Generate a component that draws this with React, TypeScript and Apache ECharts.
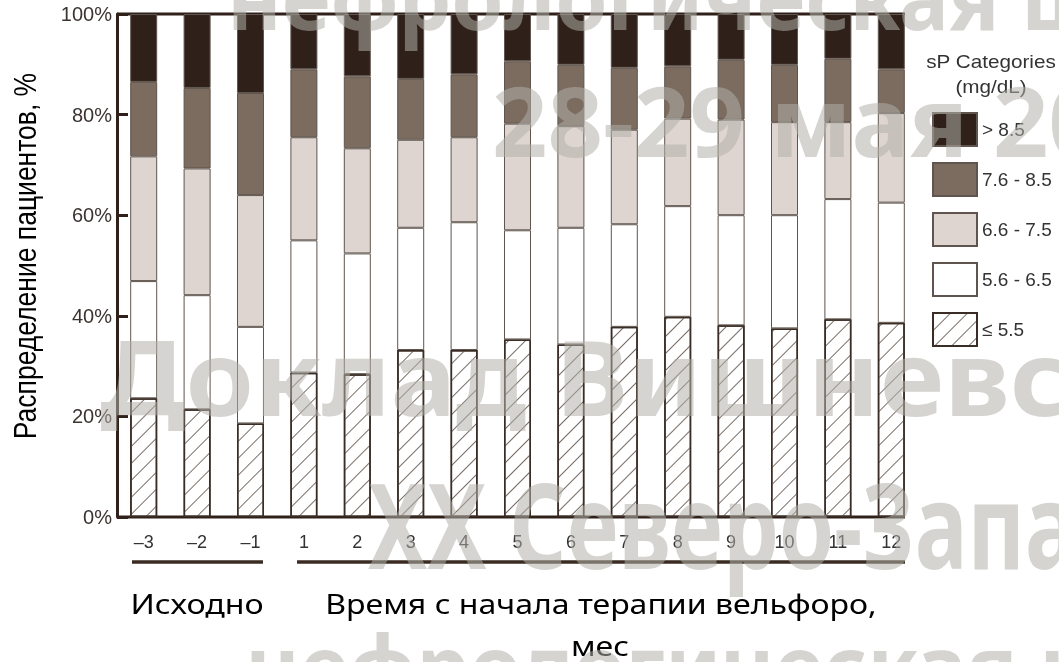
import React, { useEffect, useRef } from "react";
import * as echarts from "echarts";

const categories = ["–3", "–2", "–1", "1", "2", "3", "4", "5", "6", "7", "8", "9", "10", "11", "12"];
const seriesNames = ["≤ 5.5", "5.6 - 6.5", "6.6 - 7.5", "7.6 - 8.5", "> 8.5"];
const le55 = [23.6, 21.4, 18.6, 28.7, 28.4, 33.2, 33.2, 35.3, 34.3, 37.8, 39.8, 38.1, 37.5, 39.3, 38.6];
const r56to65 = [23.3, 22.7, 19.2, 26.3, 24.0, 24.3, 25.4, 21.7, 23.2, 20.4, 22.0, 21.9, 22.5, 23.9, 23.9];
const r66to75 = [24.8, 25.2, 26.2, 20.5, 20.9, 17.5, 16.9, 21.2, 20.2, 18.8, 17.4, 19.0, 18.5, 15.3, 17.8];
const r76to85 = [14.8, 16.0, 20.3, 13.5, 14.3, 12.1, 12.5, 12.4, 12.2, 12.3, 10.4, 11.9, 11.4, 12.6, 8.7];
const gt85 = [13.5, 14.7, 15.7, 11.0, 12.4, 12.9, 12.0, 9.4, 10.1, 10.7, 10.4, 9.1, 10.1, 8.9, 11.0];
const watermarkLines = ["нефрологическая ш", "28-29 мая 20", "Доклад Вишневс", "XX Северо-Запа", "нефрологическая ш"];

export default function App() {
  const ref = useRef<HTMLDivElement>(null);
  useEffect(() => {
    if (!ref.current) return;
    const chart = echarts.init(ref.current, null, { renderer: "svg" });
    const dark = "#2f2119";
    const border = "#5f554e";
    const fills = ["#ffffff", "#ffffff", "#dfd5d0", "#7b6c5f", "#2f2119"];
    const dataSets = [le55, r56to65, r66to75, r76to85, gt85];
    const series = dataSets.map((d, i) => ({
      name: seriesNames[i],
      type: "bar",
      stack: "total",
      barWidth: 27,
      data: d,
      itemStyle: {
        color: fills[i],
        borderColor: i === 0 ? "#3a2d25" : border,
        borderWidth: i === 0 ? 1.5 : 1,
        decal:
          i === 0
            ? {
                symbol: "rect",
                symbolSize: 1,
                dashArrayX: [1, 0],
                dashArrayY: [1, 11],
                rotation: -Math.PI / 4,
                color: "#776c65",
              }
            : "none",
      },
    }));
    const sans = "'Liberation Sans', Arial, sans-serif";
    const wmStyle = {
      fill: "rgba(178,175,168,0.54)",
      fontFamily: "'Noto Sans', sans-serif",
      fontWeight: "bold",
      textAlign: "left",
      textVerticalAlign: "middle",
    };
    const wmPos = [
      { x: 227, y: -4, size: 88, sx: 0.95 },
      { x: 492, y: 119, size: 97, sx: 1 },
      { x: 100, y: 375, size: 104, sx: 1.06 },
      { x: 368, y: 524, size: 118, sx: 0.75 },
      { x: 245, y: 665, size: 88, sx: 0.95 },
    ];
    chart.setOption({
      animation: false,
      grid: { left: 117, top: 14, width: 801, height: 503 },
      xAxis: {
        type: "category",
        data: categories,
        axisLine: { show: false },
        axisTick: { show: false },
        axisLabel: { margin: 16, fontSize: 18, fontFamily: sans, color: "#333" },
      },
      yAxis: {
        type: "value",
        min: 0,
        max: 100,
        interval: 20,
        axisLine: { show: true, lineStyle: { color: dark, width: 3 } },
        axisTick: { show: true, inside: true, length: 11, lineStyle: { color: dark, width: 3 } },
        splitLine: { show: false },
        axisLabel: { formatter: "{value}%", fontSize: 20, margin: 5, fontFamily: sans, color: "#3b3431" },
      },
      legend: {
        orient: "vertical",
        left: 927,
        top: 107,
        itemWidth: 44,
        itemHeight: 33,
        itemGap: 15,
        icon: "rect",
        data: [...seriesNames].reverse(),
        textStyle: { fontSize: 19, fontFamily: sans, color: "#333" },
        selectedMode: false,
      },
      graphic: [
        { type: "line", shape: { x1: 117, y1: 14, x2: 905, y2: 14 }, style: { stroke: dark, lineWidth: 3 } },
        { type: "line", shape: { x1: 117, y1: 517, x2: 905, y2: 517 }, style: { stroke: dark, lineWidth: 3 } },
        { type: "line", shape: { x1: 132, y1: 562, x2: 263, y2: 562 }, style: { stroke: "#3a2c22", lineWidth: 3.5 } },
        { type: "line", shape: { x1: 297, y1: 562, x2: 905, y2: 562 }, style: { stroke: "#3a2c22", lineWidth: 3.5 } },
        {
          type: "text",
          x: 991,
          y: 62,
          scaleX: 1.15,
          style: { text: "sP Categories", fontSize: 18, fontFamily: sans, fill: "#333", textAlign: "center", textVerticalAlign: "middle" },
        },
        {
          type: "text",
          x: 991,
          y: 87,
          scaleX: 1.15,
          style: { text: "(mg/dL)", fontSize: 18, fontFamily: sans, fill: "#333", textAlign: "center", textVerticalAlign: "middle" },
        },
        {
          type: "text",
          x: 25,
          y: 256,
          rotation: Math.PI / 2,
          scaleY: 1.15,
          style: { text: "Распределение пациентов, %", fontSize: 26.5, fontFamily: sans, fill: "#000", textAlign: "center", textVerticalAlign: "middle" },
        },
        {
          type: "text",
          x: 197,
          y: 603,
          scaleX: 1.15,
          style: { text: "Исходно", fontSize: 28, fontFamily: "'Noto Sans', sans-serif", fill: "#000", textAlign: "center", textVerticalAlign: "middle" },
        },
        {
          type: "text",
          x: 601,
          y: 603,
          scaleX: 1.145,
          style: { text: "Время с начала терапии вельфоро,", fontSize: 28, fontFamily: "'Noto Sans', sans-serif", fill: "#000", textAlign: "center", textVerticalAlign: "middle" },
        },
        {
          type: "text",
          x: 600,
          y: 645,
          scaleX: 1.145,
          style: { text: "мес", fontSize: 28, lineHeight: 28, fontFamily: "'Noto Sans', sans-serif", fill: "#000", textAlign: "center", textVerticalAlign: "middle" },
        },
        ...watermarkLines.map((t, i) => ({
          type: "text",
          x: wmPos[i].x,
          y: wmPos[i].y,
          scaleX: wmPos[i].sx,
          z: 100,
          silent: true,
          style: { ...wmStyle, text: t, fontSize: wmPos[i].size },
        })),
      ],
      series,
    });
    return () => chart.dispose();
  }, []);
  return <div ref={ref} style={{ position: "fixed", left: 0, top: 0, width: 1059, height: 662 }} />;
}
